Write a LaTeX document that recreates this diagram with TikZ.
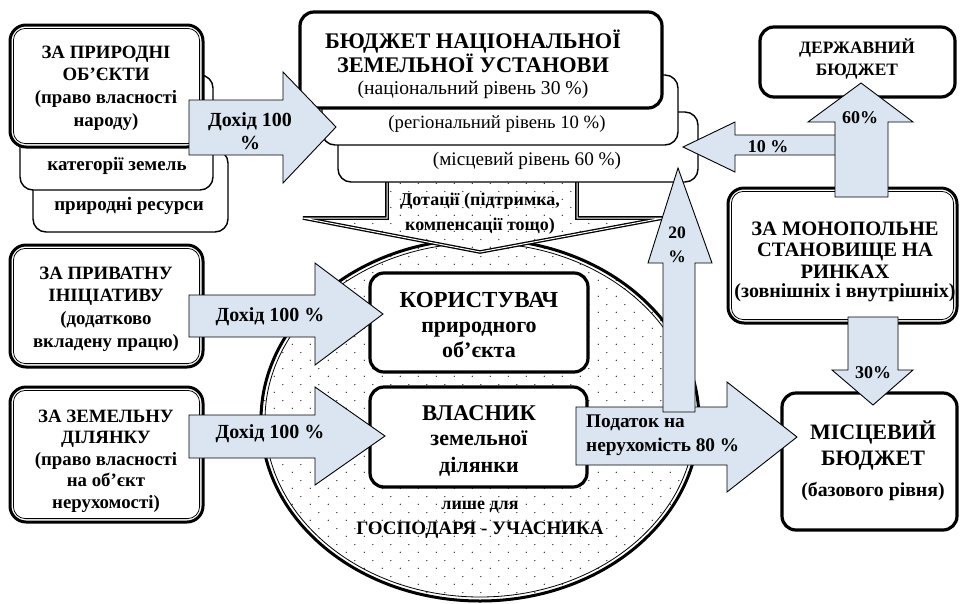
\documentclass[tikz,border=0pt]{standalone}
\usepackage{fontspec}
\setmainfont{Liberation Serif}
\usetikzlibrary{patterns.meta,shapes.geometric}
\definecolor{arrowblue}{RGB}{219,229,241}
\tikzdeclarepattern{name=sparsedots, type=uncolored,
  bottom left={(0pt,0pt)}, top right={(18pt,16pt)}, tile size={(18pt,16pt)},
  code={\fill (4.5pt,4pt) circle (0.65pt); \fill (13.5pt,12pt) circle (0.65pt);}}
\newcommand\fsz[2]{\fontsize{#1pt}{#2pt}\selectfont}
\newcommand\mkbox[6]{%
  \pgfmathsetmacro\mkW{#5-#3}\pgfmathsetmacro\mkH{#6-#4}%
  \pgfmathsetmacro\mkX{(#3+#5)/2}\pgfmathsetmacro\mkY{(#4+#6)/2}%
  \node[#1, minimum width=\mkW pt, minimum height=\mkH pt] (#2) at (\mkX,\mkY) {};}
\newcommand\mkinner[1]{%
  \draw[dblinner] ([shift={(3.4,3.4)}]#1.north west) rectangle ([shift={(-3.4,-3.4)}]#1.south east);}
\tikzset{
  thinbox/.style={draw, line width=1.4pt, rounded corners=13pt, fill=white, outer sep=0pt, inner sep=0pt},
  thickbox/.style={draw, line width=3.2pt, rounded corners=14pt, fill=white, outer sep=0pt, inner sep=0pt},
  dblouter/.style={draw, line width=3pt, rounded corners=16pt, fill=white, outer sep=0pt, inner sep=0pt},
  dblinner/.style={draw, line width=0.8pt, rounded corners=12pt},
  blockarrow/.style={draw, line width=0.9pt, fill=arrowblue, line join=miter},
  lbl/.style={font=\bfseries\fsz{20}{24}, align=center, inner sep=0pt},
  plain/.style={font=\fsz{19}{22}, align=center, inner sep=0pt},
}
\begin{document}
\begin{tikzpicture}[x=1pt,y=-1pt]
\useasboundingbox (0,0) rectangle (961,603);

% ---------- left top stack
\mkbox{thinbox}{res}{33}{150}{228}{232}
\node[lbl, font=\bfseries\fsz{19}{22}] (tres) at (129,206) {природні ресурси};
\mkbox{thinbox}{kat}{20}{75}{213}{190}
\node[lbl, font=\bfseries\fsz{19}{22}] (tkat) at (117,166) {категорії земель};
\mkbox{dblouter}{prir}{10}{25}{203}{147}
\mkinner{prir}
\node[lbl, font=\bfseries\fsz{18.8}{22.6}] (tprir) at (106,88) {ЗА ПРИРОДНІ\\ОБ’ЄКТИ\\(право власності\\народу)};

% ---------- central ellipse
\node[ellipse, draw, line width=3pt, minimum width=438pt, minimum height=362pt, outer sep=0pt,
      preaction={fill=white}, pattern=sparsedots] (circ) at (480,420) {};
\node[ellipse, draw, line width=0.8pt, minimum width=430pt, minimum height=354pt] (circin) at (480,420) {};

% ---------- subsidies arrow
\draw[double=white, draw=black, line width=1.3pt, double distance=1pt, line join=miter,
      preaction={fill=white}, pattern=sparsedots]
  (387,175) -- (577,175) -- (577,218) -- (663,218) -- (480,252) -- (303,218) -- (387,218) -- cycle;
\node[lbl, font=\bfseries\fsz{18}{25}] (tdot) at (480,214) {Дотації (підтримка,\\компенсації тощо)};

% ---------- budget stack
\mkbox{thinbox}{mis}{338}{112}{698}{182}
\node[plain, font=\fsz{19.2}{22}] (tmis) at (527,161) {(місцевий рівень 60 \%)};
\mkbox{thinbox}{reg}{322}{75}{678}{145}
\node[plain, font=\fsz{18.7}{22}] (treg) at (497,124) {(регіональний рівень 10 \%)};
\mkbox{thickbox}{nat}{300}{12}{662}{108}
\node[lbl, font=\bfseries\fsz{22.3}{21.5}, text depth=0pt] (tnat) at (473,51.5) {БЮДЖЕТ НАЦІОНАЛЬНОЇ\\ЗЕМЕЛЬНОЇ УСТАНОВИ};
\node[plain, font=\fsz{19.6}{22}, text height=12pt] (tnat2) at (473,90.5) {(національний рівень 30 \%)};

% ---------- top income arrow
\draw[blockarrow] (189,100) -- (283,100) -- (283,72) -- (336,127) -- (283,183) -- (283,155) -- (189,155) -- cycle;
\node[lbl, font=\bfseries\fsz{20}{23}] (tinc0) at (250,131) {Дохід 100\\\%};

% ---------- inner boxes
\mkbox{thickbox}{kor}{370}{273}{588}{372}
\node[lbl, font=\bfseries\fsz{23}{26}] (tkor1) at (479,300) {КОРИСТУВАЧ};
\node[lbl, font=\bfseries\fsz{22}{25.5}] (tkor2) at (479,340) {природного\\об’єкта};
\mkbox{thickbox}{vla}{370}{387}{587}{487}
\node[lbl, font=\bfseries\fsz{22.5}{26}] (tvla1) at (479,413) {ВЛАСНИК};
\node[lbl, font=\bfseries\fsz{22}{27}] (tvla2) at (479,454) {земельної\\ділянки};
\node[lbl, font=\bfseries\fsz{18}{20}] (tlyshe) at (480,507) {лише для};
\node[lbl, font=\bfseries\fsz{19}{22}] (tgosp) at (480,530) {ГОСПОДАРЯ - УЧАСНИКА};

% ---------- left boxes
\mkbox{dblouter}{pryv}{10}{245}{203}{367}
\mkinner{pryv}
\node[lbl, font=\bfseries\fsz{18.8}{22.6}] (tpryv) at (106,309) {ЗА ПРИВАТНУ\\ІНІЦІАТИВУ\\(додатково\\вкладену працю)};
\mkbox{dblouter}{zem}{10}{387}{203}{522}
\mkinner{zem}
\node[lbl, font=\bfseries\fsz{18.8}{21.6}] (tzem) at (106,461) {ЗА ЗЕМЕЛЬНУ\\ДІЛЯНКУ\\(право власності\\на об’єкт\\нерухомості)};

\draw[blockarrow] (189,295) -- (315,295) -- (315,263) -- (383,314) -- (315,365) -- (315,337) -- (189,337) -- cycle;
\node[lbl] (tinc1) at (270,317) {Дохід 100 \%};
\draw[blockarrow] (189,415) -- (315,415) -- (315,387) -- (385,436) -- (315,485) -- (315,458) -- (189,458) -- cycle;
\node[lbl] (tinc2) at (270,434) {Дохід 100 \%};

% ---------- right boxes
\mkbox{thickbox}{derzh}{760}{27}{955}{97}
\node[lbl, font=\bfseries\fsz{17.4}{22}] (tderzh) at (857,59) {ДЕРЖАВНИЙ\\БЮДЖЕТ};
\mkbox{dblouter}{mono}{728}{188}{957}{323}
\mkinner{mono}
\node[lbl, font=\bfseries\fsz{20.5}{21.7}] (tmono) at (845,250) {ЗА МОНОПОЛЬНЕ\\СТАНОВИЩЕ НА\\РИНКАХ};
\node[lbl, font=\bfseries\fsz{20}{22}] (tmono2) at (845,293) {(зовнішніх і внутрішніх)};
\mkbox{thickbox}{misb}{782}{393}{957}{530}
\node[lbl, font=\bfseries\fsz{22}{26}] (tmisb) at (873,445) {МІСЦЕВИЙ\\БЮДЖЕТ};
\node[lbl, font=\bfseries\fsz{19.8}{22}] (tmisb2) at (873,492) {(базового рівня)};

% ---------- right arrows
\draw[blockarrow] (838,135) -- (735,135) -- (735,122) -- (683,147) -- (735,172) -- (735,155) -- (838,155) -- cycle;
\node[lbl, font=\bfseries\fsz{18}{20}] (t10) at (768,147) {10 \%};
\draw[blockarrow] (835,197) -- (835,122) -- (808,122) -- (861,83) -- (913,122) -- (888,122) -- (888,197) -- cycle;
\node[lbl, font=\bfseries\fsz{18}{20}] (t60) at (860,118) {60\%};
\draw[blockarrow] (576,407) -- (727,407) -- (727,382) -- (797,437) -- (727,492) -- (727,465) -- (576,465) -- cycle;
\node[lbl, align=left, anchor=west, font=\bfseries\fsz{19.3}{24}] (tpod) at (586,435) {Податок на\\нерухомість 80 \%};
\draw[blockarrow] (663,412) -- (663,263) -- (648,263) -- (678,168) -- (712,263) -- (695,263) -- (695,412) -- cycle;
\node[lbl, font=\bfseries\fsz{17.5}{24}] (t20) at (677,245) {20\\\%};
\draw[blockarrow] (848,317) -- (898,317) -- (898,370) -- (913,370) -- (873,405) -- (832,370) -- (848,370) -- cycle;
\node[lbl, font=\bfseries\fsz{18}{20}] (t30) at (873,373) {30\%};
\end{tikzpicture}
\end{document}
